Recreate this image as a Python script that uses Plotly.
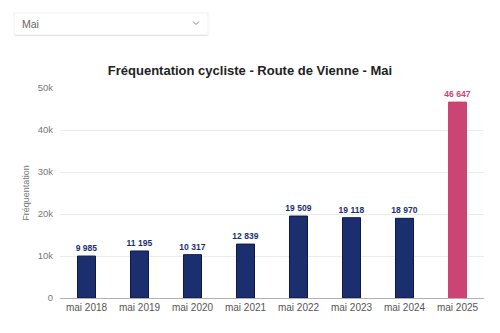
import plotly.graph_objects as go

categories = ["mai 2018", "mai 2019", "mai 2020", "mai 2021", "mai 2022", "mai 2023", "mai 2024", "mai 2025"]
values = [9985, 11195, 10317, 12839, 19509, 19118, 18970, 46647]
bar_colors = ["#1b2f6e"] * 7 + ["#cc4474"]
line_colors = ["#0d1a45"] * 7 + ["#cc4474"]
label_colors = ["#1b2f6e"] * 7 + ["#cc4474"]
tick_vals = [0, 10000, 20000, 30000, 40000, 50000]
tick_text = ["0", "10k", "20k", "30k", "40k", "50k"]

L, R, T, B = 60, 16, 88, 35
W, H = 500, 333
pw, ph = W - L - R, H - T - B

def px(x):
    return (x - L) / pw

def py(y):
    return (H - B - y) / ph

fig = go.Figure(go.Bar(
    x=categories, y=values,
    marker=dict(color=bar_colors, line=dict(color=line_colors, width=1)),
    texttemplate="<b>%{y:,}</b>", textposition="outside", constraintext="none",
    textfont=dict(size=8.5, color=label_colors, family="Liberation Sans"),
    cliponaxis=False, width=0.34,
))

shapes = [
    dict(type="rect", xref="paper", yref="paper",
         x0=px(14), x1=px(208), y0=py(35), y1=py(13),
         line=dict(color="#f0f0f0", width=1), fillcolor="#ffffff", layer="above"),
    dict(type="line", xref="paper", yref="paper",
         x0=px(15), x1=px(207), y0=py(35.5), y1=py(35.5),
         line=dict(color="#e6e6e6", width=1.5)),
    dict(type="path", xref="paper", yref="paper",
         path=f"M {px(193)} {py(21.5)} L {px(196)} {py(24.5)} L {px(199)} {py(21.5)}",
         line=dict(color="#8a8a8a", width=1)),
]

fig.update_layout(
    width=W, height=H,
    margin=dict(l=L, r=R, t=T, b=B),
    paper_bgcolor="white", plot_bgcolor="white",
    separators=", ",
    font=dict(family="Liberation Sans", color="#555555", size=10),
    title=dict(text="<b>Fréquentation cycliste - Route de Vienne - Mai</b>",
               x=0.5, xanchor="center", y=1 - 70 / H, yanchor="middle",
               font=dict(size=13, color="#222222", family="Liberation Sans")),
    bargap=0.66,
    showlegend=False,
    shapes=shapes,
    annotations=[dict(text="Mai", xref="paper", yref="paper", x=px(20), y=py(24),
                      xanchor="left", yanchor="middle", showarrow=False,
                      font=dict(size=10.5, color="#666666", family="Liberation Sans"))],
    xaxis=dict(showgrid=False, showline=True, linecolor="#b0b0b0", linewidth=1,
               ticks="", tickfont=dict(size=10, color="#555555")),
    yaxis=dict(range=[0, 50000], tickvals=tick_vals, ticktext=tick_text,
               showgrid=True, gridcolor="#ececec", zeroline=False,
               tickfont=dict(size=9.5, color="#777777"), ticklabelstandoff=6,
               title=dict(text="Fréquentation", font=dict(size=9, color="#777777"), standoff=6)),
)

fig.write_html("out.html")
